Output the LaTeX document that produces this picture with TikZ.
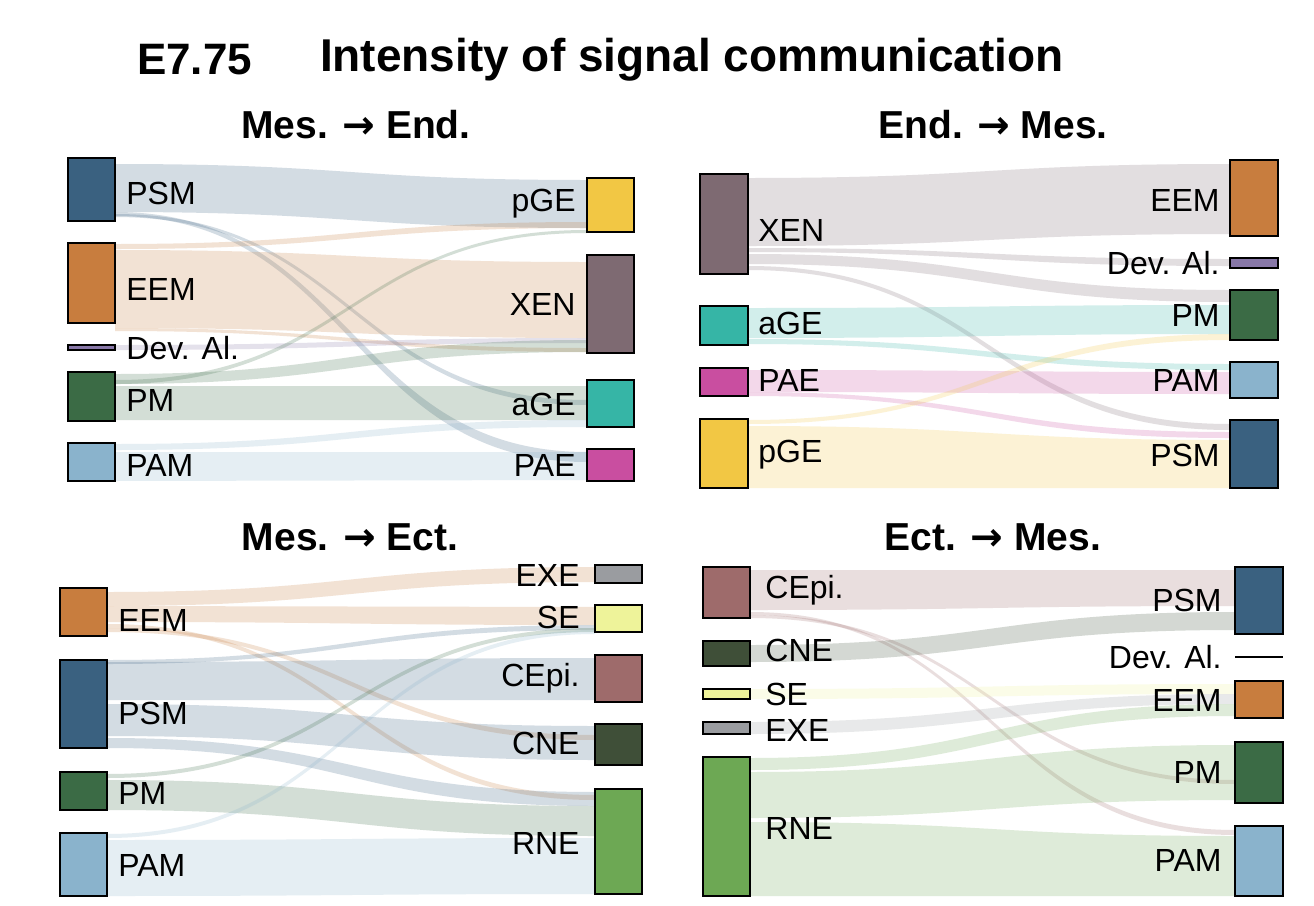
\documentclass[tikz,border=0pt]{standalone}
\usepackage{fontspec}
\setmainfont{Liberation Sans}
\newfontfamily\dv{DejaVu Sans}
\definecolor{cPSM}{HTML}{3A6180}
\definecolor{cEEM}{HTML}{C87D3E}
\definecolor{cDev}{HTML}{8878A8}
\definecolor{cPM}{HTML}{3B6B45}
\definecolor{cPAM}{HTML}{8AB3CC}
\definecolor{cPGE}{HTML}{F2C744}
\definecolor{cXEN}{HTML}{7E6A72}
\definecolor{cAGE}{HTML}{36B5A6}
\definecolor{cPAE}{HTML}{C94EA0}
\definecolor{cEXE}{HTML}{9A9CA0}
\definecolor{cSE}{HTML}{EEF39A}
\definecolor{cCEpi}{HTML}{9E6B6B}
\definecolor{cCNE}{HTML}{3F4F38}
\definecolor{cRNE}{HTML}{6DA854}
\newcommand\myflow[7]{\pgfmathsetmacro\mx{(#1+#4)/2}%
\fill[#7,opacity=0.22] (#1,#2) .. controls (\mx,#2) and (\mx,#5) .. (#4,#5) -- (#4,#6) .. controls (\mx,#6) and (\mx,#3) .. (#1,#3) -- cycle;}
\newcommand\mybox[5]{\draw[fill=#5,line width=0.8pt] (#1,#3) rectangle (#2,#4);}
\tikzset{lab/.style={font=\fontsize{16}{18}\selectfont,inner sep=0pt},
 labl/.style={lab,anchor=west},labr/.style={lab,anchor=east},
 sub/.style={font=\bfseries\fontsize{19.5}{22}\selectfont}}
\begin{document}
\begin{tikzpicture}[x=0.5pt,y=-0.5pt]
\fill[white] (0,0) rectangle (1314,906);
\node[font=\bfseries\fontsize{22}{26}\selectfont,anchor=west] (t1) at (130,60) {E7.75};
\node[font=\bfseries\fontsize{23}{26}\selectfont,anchor=west] (t2) at (313,60) {Intensity of signal communication};
\node[sub] (s1) at (356,125) {Mes. {\dv →} End.};
\node[sub] (s2) at (993,125) {End. {\dv →} Mes.};
\node[sub] (s3) at (350,537) {Mes. {\dv →} Ect.};
\node[sub] (s4) at (993,537) {Ect. {\dv →} Mes.};
% ---------- Panel 1
\myflow{115}{164}{212}{587}{180}{228}{cPSM}
\myflow{115}{212}{216}{587}{452}{462}{cPSM}
\myflow{115}{214}{217}{587}{400}{405}{cPSM}
\myflow{115}{250}{328}{587}{262}{338}{cEEM}
\myflow{115}{244}{249}{587}{222}{228}{cEEM}
\myflow{115}{328}{331}{587}{348}{352}{cEEM}
\myflow{115}{345}{350}{587}{338}{343}{cDev}
\myflow{115}{374}{384}{587}{340}{352}{cPM}
\myflow{115}{386}{420}{587}{386}{420}{cPM}
\myflow{115}{380}{384}{587}{230}{233}{cPM}
\myflow{115}{452}{481}{587}{452}{480}{cPAM}
\myflow{115}{444}{450}{587}{420}{427}{cPAM}
\mybox{68}{115}{158}{221}{cPSM}
\mybox{68}{115}{243}{323}{cEEM}
\mybox{68}{115}{345}{350}{cDev}
\mybox{68}{115}{372}{421}{cPM}
\mybox{68}{115}{443}{481}{cPAM}
\mybox{587}{634}{178}{232}{cPGE}
\mybox{587}{634}{255}{353}{cXEN}
\mybox{587}{634}{380}{427}{cAGE}
\mybox{587}{634}{449}{481}{cPAE}
\node[labl] (a1) at (126,193) {PSM};
\node[labl] (a2) at (126,289) {EEM};
\node[labl] (a3) at (126,348) {Dev. Al.};
\node[labl] (a4) at (126,400) {PM};
\node[labl] (a5) at (126,465) {PAM};
\node[labr] (b1) at (576,204) {pGE};
\node[labr] (b2) at (576,304) {XEN};
\node[labr] (b3) at (576,404) {aGE};
\node[labr] (b4) at (576,465) {PAE};
% ---------- Panel 2
\myflow{748}{178}{246}{1230}{164}{234}{cXEN}
\myflow{748}{248}{252}{1230}{259}{266}{cXEN}
\myflow{748}{254}{264}{1230}{290}{302}{cXEN}
\myflow{748}{266}{270}{1230}{424}{430}{cXEN}
\myflow{748}{308}{338}{1230}{305}{334}{cAGE}
\myflow{748}{339}{344}{1230}{364}{370}{cAGE}
\myflow{748}{370}{392}{1230}{372}{394}{cPAE}
\myflow{748}{392}{396}{1230}{432}{438}{cPAE}
\myflow{748}{426}{488}{1230}{440}{488}{cPGE}
\myflow{748}{420}{424}{1230}{334}{340}{cPGE}
\mybox{700}{748}{174}{274}{cXEN}
\mybox{700}{748}{306}{345}{cAGE}
\mybox{700}{748}{368}{396}{cPAE}
\mybox{700}{748}{419}{488}{cPGE}
\mybox{1230}{1278}{160}{236}{cEEM}
\mybox{1230}{1278}{258}{268}{cDev}
\mybox{1230}{1278}{290}{340}{cPM}
\mybox{1230}{1278}{362}{398}{cPAM}
\mybox{1230}{1278}{420}{488}{cPSM}
\node[labl] (c1) at (758,230) {XEN};
\node[labl] (c2) at (758,323) {aGE};
\node[labl] (c3) at (758,380) {PAE};
\node[labl] (c4) at (758,455) {pGE};
\node[labr] (d1) at (1220,200) {EEM};
\node[labr] (d2) at (1220,263) {Dev. Al.};
\node[labr] (d3) at (1220,315) {PM};
\node[labr] (d4) at (1220,380) {PAM};
\node[labr] (d5) at (1220,455) {PSM};
% ---------- Panel 3
\myflow{107}{592}{606}{595}{567}{582}{cEEM}
\myflow{107}{606}{622}{595}{607}{625}{cEEM}
\myflow{107}{624}{628}{595}{795}{800}{cEEM}
\myflow{107}{628}{632}{595}{735}{740}{cEEM}
\myflow{107}{662}{700}{595}{658}{700}{cPSM}
\myflow{107}{704}{736}{595}{726}{760}{cPSM}
\myflow{107}{738}{748}{595}{792}{806}{cPSM}
\myflow{107}{660}{664}{595}{625}{630}{cPSM}
\myflow{107}{780}{810}{595}{806}{836}{cPM}
\myflow{107}{774}{778}{595}{628}{632}{cPM}
\myflow{107}{840}{896}{595}{838}{894}{cPAM}
\myflow{107}{834}{838}{595}{630}{634}{cPAM}
\mybox{60}{107}{588}{636}{cEEM}
\mybox{60}{107}{660}{748}{cPSM}
\mybox{60}{107}{772}{810}{cPM}
\mybox{60}{107}{833}{896}{cPAM}
\mybox{595}{642}{565}{583}{cEXE}
\mybox{595}{642}{605}{632}{cSE}
\mybox{595}{642}{655}{702}{cCEpi}
\mybox{595}{642}{724}{765}{cCNE}
\mybox{595}{642}{789}{894}{cRNE}
\node[labl] (e1) at (118,620) {EEM};
\node[labl] (e2) at (118,713) {PSM};
\node[labl] (e3) at (118,793) {PM};
\node[labl] (e4) at (118,865) {PAM};
\node[labr] (f1) at (580,575) {EXE};
\node[labr] (f2) at (580,617) {SE};
\node[labr] (f3) at (580,678) {CEpi.};
\node[labr] (f4) at (580,743) {CNE};
\node[labr] (f5) at (580,843) {RNE};
% ---------- Panel 4
\myflow{750}{570}{610}{1235}{570}{606}{cCEpi}
\myflow{750}{612}{615}{1235}{830}{835}{cCEpi}
\myflow{750}{615}{618}{1235}{780}{784}{cCEpi}
\myflow{750}{645}{662}{1235}{612}{630}{cCNE}
\myflow{750}{689}{699}{1235}{684}{694}{cSE}
\myflow{750}{722}{734}{1235}{694}{704}{cEXE}
\myflow{750}{758}{770}{1235}{704}{716}{cRNE}
\myflow{750}{772}{818}{1235}{745}{800}{cRNE}
\myflow{750}{822}{896}{1235}{836}{896}{cRNE}
\mybox{703}{750}{567}{618}{cCEpi}
\mybox{703}{750}{641}{666}{cCNE}
\mybox{703}{750}{689}{699}{cSE}
\mybox{703}{750}{722}{734}{cEXE}
\mybox{703}{750}{757}{896}{cRNE}
\mybox{1235}{1283}{567}{634}{cPSM}
\draw[line width=1.2pt] (1235,657) -- (1283,657);
\mybox{1235}{1283}{681}{718}{cEEM}
\mybox{1235}{1283}{742}{803}{cPM}
\mybox{1235}{1283}{826}{896}{cPAM}
\node[labl] (g1) at (765,590) {CEpi.};
\node[labl] (g2) at (765,650) {CNE};
\node[labl] (g3) at (765,694) {SE};
\node[labl] (g4) at (765,730) {EXE};
\node[labl] (g5) at (765,828) {RNE};
\node[labr] (h1) at (1222,600) {PSM};
\node[labr] (h2) at (1222,657) {Dev. Al.};
\node[labr] (h3) at (1222,700) {EEM};
\node[labr] (h4) at (1222,772) {PM};
\node[labr] (h5) at (1222,860) {PAM};
\end{tikzpicture}
\end{document}
